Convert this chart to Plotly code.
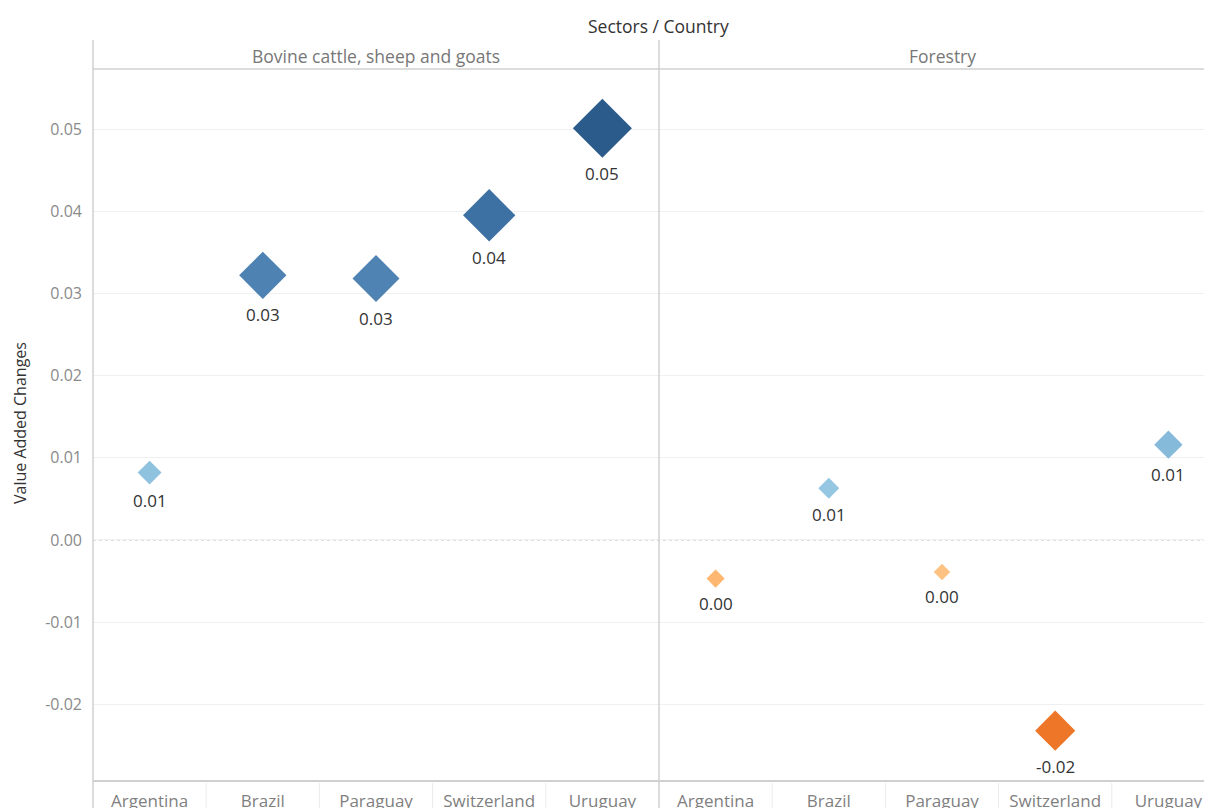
import math
import plotly.graph_objects as go

countries = ["Argentina", "Brazil", "Paraguay", "Switzerland", "Uruguay"]
sectors = ["Bovine cattle, sheep and goats", "Forestry"]
bovine_values = [0.0082, 0.0322, 0.0318, 0.0395, 0.0501]
forestry_values = [-0.0047, 0.0063, -0.0039, -0.0232, 0.0116]
y_tick_vals = [-0.02, -0.01, 0.00, 0.01, 0.02, 0.03, 0.04, 0.05]
y_tick_text = ["-0.02", "-0.01", "0.00", "0.01", "0.02", "0.03", "0.04", "0.05"]

FONT = "Open Sans"
# page body has an 8px margin: figure coords = screen coords - 8
L, T, PB = 85, 61, 772          # plot left, top, bottom (figure px)
W, H = 1212, 808
PW, PH = W - L, PB - T
MAX_W = 59                      # width in px of the largest diamond

cmax = max(abs(v) for v in bovine_values + forestry_values)
colorscale = [
    [0.0, "#a8461c"],
    [0.27, "#ee7628"],
    [0.455, "#fdb872"],
    [0.462, "#fdc485"],
    [0.5, "#dfe3e6"],
    [0.56, "#96c7e2"],
    [0.58, "#8fc2df"],
    [0.615, "#86badb"],
    [0.815, "#4f84b3"],
    [0.894, "#3e71a3"],
    [1.0, "#2b5b8a"],
]
sizeref = cmax / 2 / (MAX_W / 2.6) ** 2


def label(v):
    return f"{round(v, 2) + 0.0:.2f}"


fig = go.Figure()
annotations = []
for vals, xa in [(bovine_values, "x"), (forestry_values, "x2")]:
    fig.add_trace(go.Scatter(
        x=countries, y=vals, xaxis=xa, yaxis="y",
        mode="markers",
        marker=dict(symbol="diamond", size=[abs(v) for v in vals], sizemode="area",
                    sizeref=sizeref, color=vals, colorscale=colorscale,
                    cmin=-cmax, cmax=cmax, line=dict(width=0), opacity=1),
        showlegend=False, hoverinfo="skip", cliponaxis=False,
    ))
    for c, v in zip(countries, vals):
        half = MAX_W / 2 * math.sqrt(abs(v) / cmax)
        annotations.append(dict(
            text=label(v), xref=xa, yref="y", x=c, y=v, showarrow=False,
            yshift=-(half + 16), xanchor="center", yanchor="middle",
            font=dict(family=FONT, size=17, color="#333333")))

col_px = (651 - L) / 5
split = (651 - L) / PW
right_span = (W - 651) / col_px

xcommon = dict(showgrid=False, showline=True, linecolor="#d0d0d0", linewidth=2, ticks="",
               tickfont=dict(family=FONT, size=17, color="#7f7f7f"), ticklabelstandoff=5,
               zeroline=False, anchor="y")
fig.update_layout(
    width=W, height=H, autosize=False,
    margin=dict(l=L, r=0, t=T, b=H - PB, pad=0),
    paper_bgcolor="white", plot_bgcolor="white",
    font=dict(family=FONT, size=15, color="#888888"),
    xaxis=dict(domain=[0, split], range=[-0.5, 4.5], **xcommon),
    xaxis2=dict(domain=[split, 1], range=[-0.5, -0.5 + right_span], **xcommon),
    yaxis=dict(range=[-0.0292, 0.0573], tickvals=y_tick_vals, ticktext=y_tick_text,
               showgrid=True, gridcolor="#f0f0f0", gridwidth=1, zeroline=False,
               showline=False, ticks="", ticklabelstandoff=10,
               tickfont=dict(family=FONT, size=16, color="#8a8a8a")),
)

shapes = []
shapes.append(dict(type="line", xref="paper", yref="y", x0=0, x1=1, y0=0, y1=0,
                   line=dict(color="#bdbdbd", width=1, dash="dot"), layer="below"))
shapes.append(dict(type="line", xref="paper", yref="paper", x0=0, x1=1, y0=1, y1=1,
                   line=dict(color="#d0d0d0", width=1.5)))
top = (PB - 32) / PH
bot = -(H - PB) / PH
for xp in [0, split]:
    shapes.append(dict(type="line", xref="paper", yref="paper", x0=xp, x1=xp,
                       y0=bot, y1=top, line=dict(color="#d0d0d0", width=1.5)))
for xa in ["x", "x2"]:
    for i in range(len(countries) - 1):
        shapes.append(dict(type="line", xref=xa, yref="paper", x0=i + 0.5, x1=i + 0.5,
                           y0=-0.004, y1=bot, line=dict(color="#ececec", width=1)))
fig.update_layout(shapes=shapes)

annotations += [
    dict(text="Sectors / Country", xref="paper", yref="paper", x=(650 - L) / PW,
         y=(PB - 18) / PH, showarrow=False, font=dict(family=FONT, size=17.5, color="#333333"),
         xanchor="center", yanchor="middle"),
    dict(text=sectors[0], xref="x", yref="paper", x=2, y=(PB - 48) / PH,
         showarrow=False, font=dict(family=FONT, size=17.5, color="#777777"),
         xanchor="center", yanchor="middle"),
    dict(text=sectors[1], xref="x2", yref="paper", x=2, y=(PB - 48) / PH,
         showarrow=False, font=dict(family=FONT, size=17.5, color="#777777"),
         xanchor="center", yanchor="middle"),
    dict(text="Value Added Changes", xref="paper", yref="paper", x=(12 - L) / PW,
         y=(PB - 415) / PH, showarrow=False, textangle=-90,
         font=dict(family=FONT, size=16, color="#333333"), xanchor="center", yanchor="middle"),
]
fig.update_layout(annotations=annotations)

fig.write_html("out.html")
